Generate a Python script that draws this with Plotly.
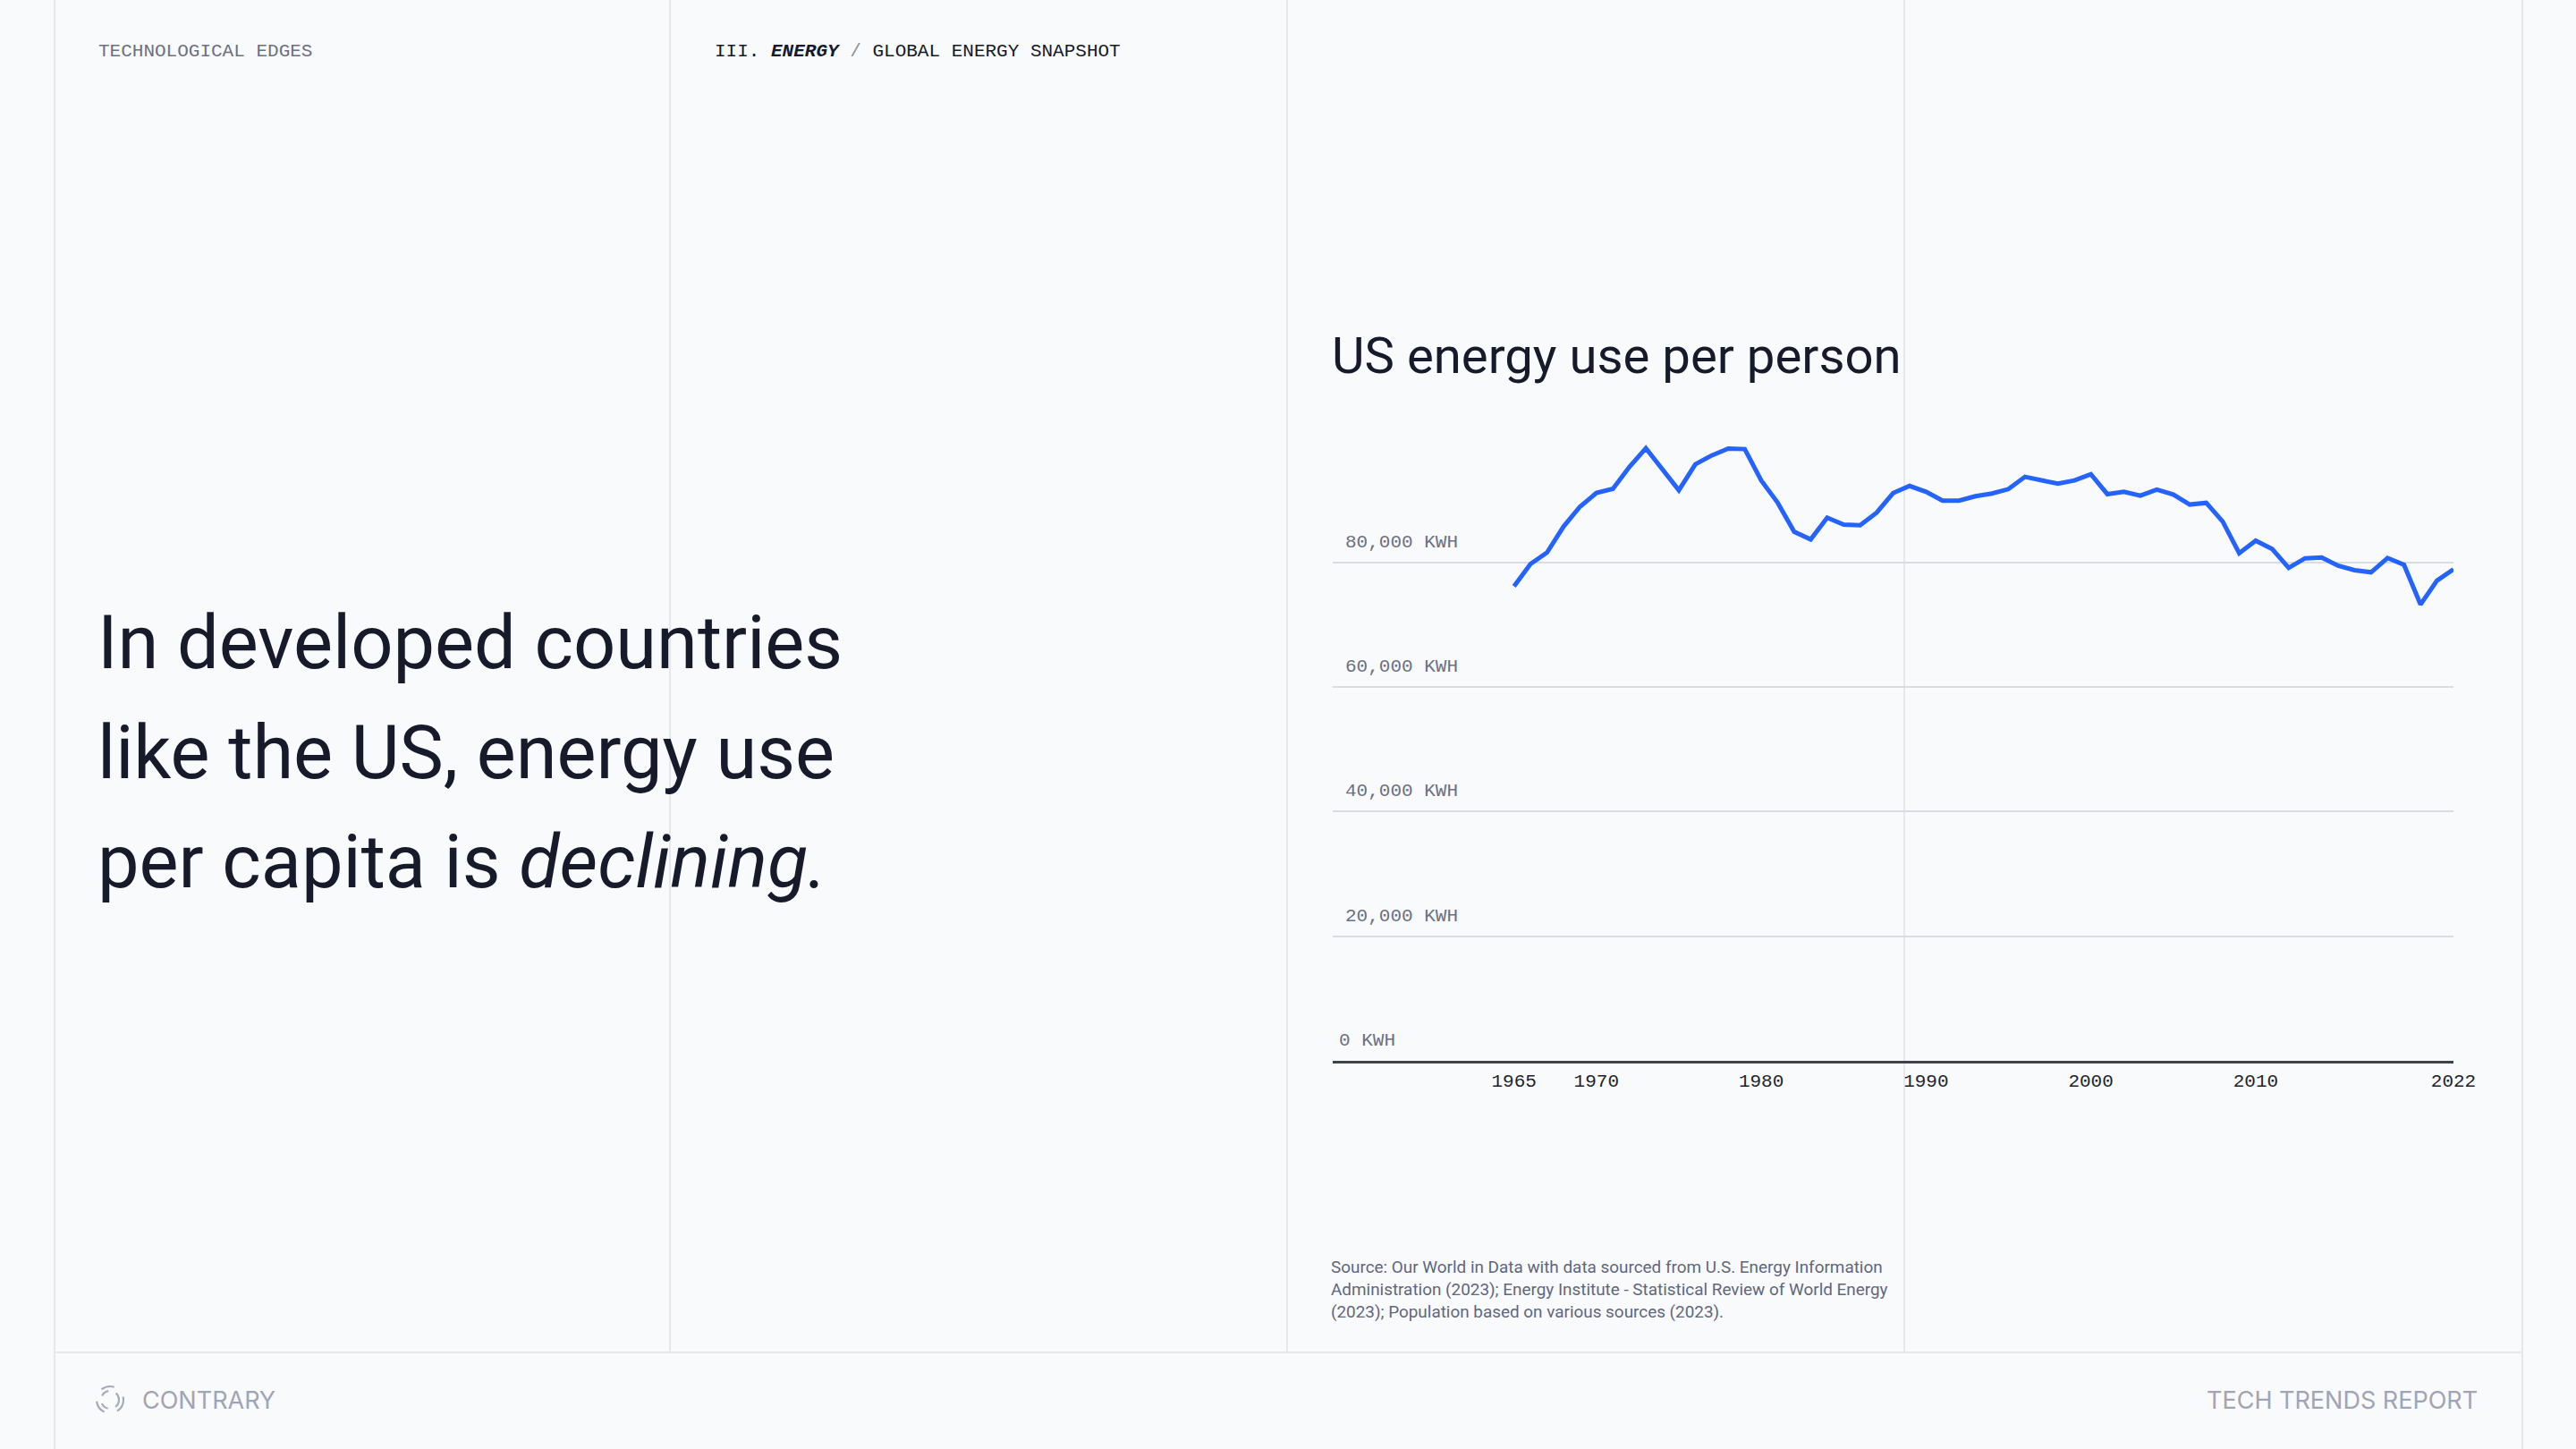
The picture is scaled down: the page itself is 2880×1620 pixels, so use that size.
import plotly.graph_objects as go

W, H = 2880, 1620

# ---- data ----
years = [1965, 1966, 1967, 1968, 1969, 1970, 1971, 1972, 1973, 1974,
         1975, 1976, 1977, 1978, 1979, 1980, 1981, 1982, 1983, 1984,
         1985, 1986, 1987, 1988, 1989, 1990, 1991, 1992, 1993, 1994,
         1995, 1996, 1997, 1998, 1999, 2000, 2001, 2002, 2003, 2004,
         2005, 2006, 2007, 2008, 2009, 2010, 2011, 2012, 2013, 2014,
         2015, 2016, 2017, 2018, 2019, 2020, 2021, 2022]
energy_kwh = [76170, 79760, 81580, 85740, 88950, 91150, 91820, 95320, 98330, 94980,
              91580, 95750, 97180, 98280, 98190, 93160, 89570, 84930, 83690, 87180,
              86080, 85980, 87990, 91130, 92280, 91340, 89930, 89910, 90630, 91060,
              91770, 93740, 93260, 92640, 93160, 94170, 90960, 91340, 90720, 91680,
              90910, 89290, 89570, 86560, 81480, 83490, 82150, 79140, 80670, 80810,
              79470, 78760, 78420, 80720, 79620, 73250, 77080, 78900]
x_ticks = [1965, 1970, 1980, 1990, 2000, 2010, 2022]
y_ticks = [0, 20000, 40000, 60000, 80000]
y_tick_labels = ["0 KWH", "20,000 KWH", "40,000 KWH", "60,000 KWH", "80,000 KWH"]

title_text = "US energy use per person"
headline_lines = ["In developed countries", "like the US, energy use",
                  "per capita is <i>declining.</i>"]
source_lines = ["Source: Our World in Data with data sourced from U.S. Energy Information",
                "Administration (2023); Energy Institute - Statistical Review of World Energy",
                "(2023); Population based on various sources (2023)."]

# ---- styling ----
BG = "#f9fafb"
RULE = "#e6e8ec"
BLUE = "#2563ff"
DARK = "#161a2b"
MONO = "Liberation Mono, DejaVu Sans Mono, monospace"
SANS = "Roboto, Inter, sans-serif"
FOOT = "Inter, Roboto, sans-serif"


def px(x):
    return x / W


def py(y):
    return 1 - y / H


fig = go.Figure()
fig.add_trace(go.Scatter(x=years, y=energy_kwh, mode="lines",
                         line=dict(color=BLUE, width=5), hoverinfo="skip",
                         showlegend=False))

shapes = []
# page grid
for xv, ybot in [(61, H), (749, 1512), (1439, 1512), (2129, 1512), (2820, H)]:
    shapes.append(dict(type="line", xref="paper", yref="paper",
                       x0=px(xv), x1=px(xv), y0=py(0), y1=py(ybot),
                       line=dict(color=RULE, width=2), layer="below"))
shapes.append(dict(type="line", xref="paper", yref="paper",
                   x0=px(61), x1=px(2820), y0=py(1512), y1=py(1512),
                   line=dict(color=RULE, width=2), layer="below"))
# logo
for r, dash, w in [(15, "longdash", 2.2), (10, "dash", 2.2)]:
    shapes.append(dict(type="circle", xref="paper", yref="paper",
                       x0=px(123 - r), x1=px(123 + r), y0=py(1565 + r), y1=py(1565 - r),
                       line=dict(color="#a6aabb", width=w, dash=dash)))

ann = []
ann.append(dict(text="TECHNOLOGICAL EDGES", x=px(108), y=py(58), xref="paper", yref="paper",
                xanchor="left", yanchor="middle", showarrow=False,
                font=dict(family=MONO, size=21, color="#6b7183")))
ann.append(dict(text="III. <b><i>ENERGY</i></b> <span style='color:#8a8fa0'>/</span> GLOBAL ENERGY SNAPSHOT",
                x=px(797), y=py(58), xref="paper", yref="paper",
                xanchor="left", yanchor="middle", showarrow=False,
                font=dict(family=MONO, size=21, color=DARK)))
ann.append(dict(text=title_text, x=px(1487), y=py(398), xref="paper", yref="paper",
                xanchor="left", yanchor="middle", showarrow=False,
                font=dict(family=SANS, size=56.3, color=DARK)))
for i, line in enumerate(headline_lines):
    ann.append(dict(text=line, x=px(107), y=py(719 + i * 122), xref="paper", yref="paper",
                    xanchor="left", yanchor="middle", showarrow=False,
                    font=dict(family=SANS, size=83, color=DARK)))
for i, line in enumerate(source_lines):
    ann.append(dict(text=line, x=px(1486), y=py(1416 + i * 25), xref="paper", yref="paper",
                    xanchor="left", yanchor="middle", showarrow=False,
                    font=dict(family=SANS, size=18.9, color="#5f6780")))
ann.append(dict(text="CONTRARY", x=px(157), y=py(1565), xref="paper", yref="paper",
                xanchor="left", yanchor="middle", showarrow=False,
                font=dict(family=FOOT, size=27, color="#a0a4b6")))
ann.append(dict(text="TECH TRENDS REPORT", x=px(2772), y=py(1565), xref="paper", yref="paper",
                xanchor="right", yanchor="middle", showarrow=False,
                font=dict(family=FOOT, size=27, color="#a0a4b6")))
for v, lab in zip(y_ticks, y_tick_labels):
    ann.append(dict(text=lab, x=px(1502 if v else 1495), y=v, xref="paper", yref="y",
                    xanchor="left", yanchor="bottom", yshift=9, showarrow=False,
                    font=dict(family=MONO, size=21, color="#6b7183")))

fig.update_layout(
    width=W, height=H, margin=dict(l=0, r=0, t=0, b=0, pad=0, autoexpand=False),
    paper_bgcolor=BG, plot_bgcolor="rgba(0,0,0,0)",
    shapes=shapes, annotations=ann, showlegend=False,
    xaxis=dict(domain=[px(1490), px(2743)], range=[1954, 2022],
               tickvals=x_ticks, ticktext=[str(t) for t in x_ticks],
               showgrid=False, zeroline=False, ticks="", automargin=False,
               showline=True, linecolor="#3d4250", linewidth=2.5,
               ticklabelstandoff=1,
               tickfont=dict(family=MONO, size=21, color="#22252f")),
    yaxis=dict(domain=[py(1186), py(489.5)], range=[0, 100000],
               tickvals=y_ticks[1:], showticklabels=False, automargin=False,
               showgrid=True, gridcolor="#d9dce3", gridwidth=2,
               zeroline=False, ticks="", showline=False),
)

fig.write_html("out.html", config={"responsive": False, "displayModeBar": False})

with open("out.html", "r", encoding="utf-8") as f:
    html = f.read()
html = html.replace("<head>", "<head><style>html,body{margin:0;padding:0;overflow:hidden;background:#f9fafb;}</style>", 1)
with open("out.html", "w", encoding="utf-8") as f:
    f.write(html)
